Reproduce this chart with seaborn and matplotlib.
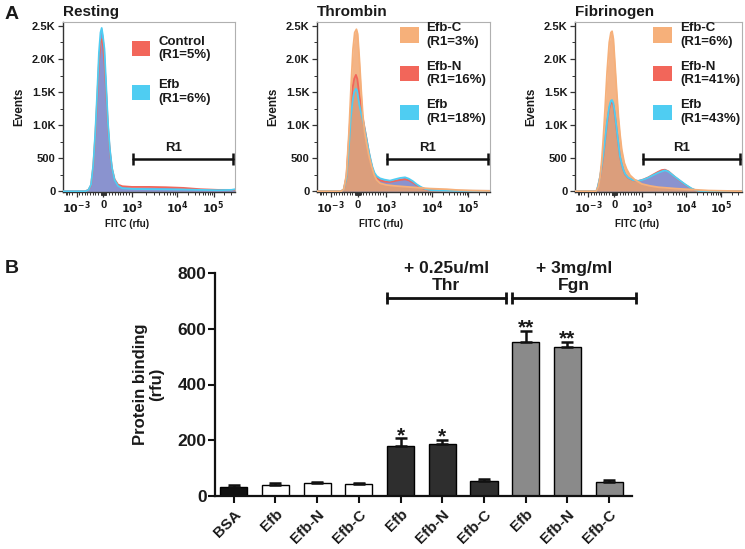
import numpy as np
import pandas as pd
import matplotlib
matplotlib.use("Agg")
import matplotlib.pyplot as plt
import seaborn as sns
from matplotlib.patches import Patch
from matplotlib.ticker import FixedLocator, MultipleLocator

# ---------------- DATA ----------------
# Panel A: flow cytometry histograms (x = display channel 0..1000, y = events)
fitc_tick_labels = [r"$10^{-3}$", "0", r"$10^{3}$", r"$10^{4}$", r"$10^{5}$"]
event_ticks = [0, 500, 1000, 1500, 2000, 2500]
event_tick_labels = ["0", "500", "1.0K", "1.5K", "2.0K", "2.5K"]

rest_ctrl_ch = [0, 130, 148, 163, 176, 188, 199, 209, 218, 226, 233, 241, 251, 261, 272, 285, 300, 320, 345, 400, 500, 600, 700, 800, 900, 1000]
rest_ctrl_ev = [0, 0, 20, 90, 380, 850, 1400, 1950, 2250, 2300, 2200, 1950, 1500, 1000, 620, 340, 180, 100, 75, 65, 65, 60, 50, 30, 20, 20]
rest_efb_ch = [0, 130, 148, 163, 176, 188, 199, 209, 218, 225, 232, 241, 251, 261, 272, 285, 300, 320, 345, 400, 500, 600, 700, 800, 900, 980, 1000]
rest_efb_ev = [0, 0, 20, 100, 400, 900, 1500, 2100, 2400, 2470, 2350, 2150, 1600, 1050, 650, 350, 170, 80, 45, 35, 30, 28, 25, 20, 15, 20, 30]

thr_efbc_ch = [0, 140, 155, 170, 185, 197, 208, 218, 228, 235, 245, 255, 265, 275, 288, 300, 315, 330, 345, 365, 400, 450, 500, 550, 600, 650, 700, 750, 800, 900, 1000]
thr_efbc_ev = [0, 0, 30, 250, 900, 1600, 2150, 2400, 2450, 2380, 2000, 1550, 1150, 900, 700, 540, 380, 250, 170, 120, 95, 80, 70, 60, 50, 40, 35, 30, 20, 10, 5]
thr_efbn_ch = [0, 140, 155, 170, 185, 195, 205, 215, 225, 233, 245, 258, 268, 280, 290, 300, 310, 320, 332, 345, 364, 390, 422, 450, 480, 509, 530, 555, 576, 600, 624, 660, 700, 800, 1000]
thr_efbn_ev = [0, 0, 30, 220, 800, 1250, 1550, 1700, 1760, 1700, 1450, 1200, 1060, 890, 740, 590, 460, 350, 250, 200, 165, 145, 140, 155, 170, 180, 165, 130, 90, 55, 30, 15, 10, 5, 5]
thr_efb_ch = [0, 140, 155, 170, 185, 195, 205, 215, 225, 232, 245, 258, 268, 280, 290, 300, 310, 320, 332, 345, 364, 390, 422, 450, 480, 509, 530, 555, 576, 600, 624, 660, 700, 800, 1000]
thr_efb_ev = [0, 0, 30, 200, 700, 1100, 1350, 1500, 1550, 1520, 1300, 1150, 1040, 880, 740, 600, 480, 370, 280, 230, 195, 175, 160, 180, 200, 210, 190, 150, 105, 65, 35, 15, 10, 5, 5]

fgn_efbc_ch = [0, 125, 132, 140, 150, 160, 170, 180, 192, 205, 215, 222, 230, 240, 250, 260, 270, 280, 295, 310, 330, 360, 400, 450, 500, 600, 700, 800, 900, 1000]
fgn_efbc_ev = [0, 0, 20, 70, 210, 460, 820, 1250, 1800, 2250, 2400, 2420, 2300, 1900, 1500, 1130, 850, 630, 430, 330, 240, 170, 110, 80, 60, 40, 25, 10, 5, 0]
fgn_efbn_ch = [0, 125, 132, 140, 150, 160, 170, 180, 192, 205, 215, 222, 230, 240, 250, 260, 269, 279, 289, 300, 319, 345, 379, 410, 439, 470, 499, 520, 539, 560, 579, 600, 619, 640, 659, 680, 699, 720, 739, 800, 1000]
fgn_efbn_ev = [0, 0, 20, 100, 210, 370, 545, 760, 1030, 1250, 1340, 1350, 1300, 1130, 920, 710, 525, 415, 325, 255, 200, 168, 155, 178, 210, 255, 295, 320, 325, 300, 258, 212, 175, 135, 100, 65, 35, 15, 5, 0, 0]
fgn_efb_ch = [0, 125, 132, 140, 150, 160, 170, 180, 192, 205, 215, 222, 230, 240, 250, 260, 269, 279, 289, 300, 319, 345, 379, 410, 439, 470, 499, 520, 539, 560, 579, 600, 619, 640, 659, 680, 699, 720, 739, 800, 1000]
fgn_efb_ev = [0, 0, 20, 105, 220, 380, 560, 780, 1050, 1280, 1370, 1380, 1330, 1150, 935, 720, 530, 420, 330, 260, 205, 170, 155, 175, 205, 245, 280, 300, 316, 295, 256, 215, 180, 140, 105, 70, 40, 18, 5, 0, 0]

panel_titles = ["Resting", "Thrombin", "Fibrinogen"]
rest_labels = ["Control\n(R1=5%)", "Efb\n(R1=6%)"]
thr_labels = ["Efb-C\n(R1=3%)", "Efb-N\n(R1=16%)", "Efb\n(R1=18%)"]
fgn_labels = ["Efb-C\n(R1=6%)", "Efb-N\n(R1=41%)", "Efb\n(R1=43%)"]

# Panel B: protein binding bar chart
bar_labels = ["BSA", "Efb", "Efb-N", "Efb-C", "Efb", "Efb-N", "Efb-C", "Efb", "Efb-N", "Efb-C"]
bar_values = [33, 40, 48, 43, 180, 187, 55, 553, 533, 50]
bar_errors = [8, 6, 4, 5, 27, 14, 5, 39, 21, 8]
bar_stars = ["", "", "", "", "*", "*", "", "**", "**", ""]
group_labels = ["+ 0.25u/ml\nThr", "+ 3mg/ml\nFgn"]

# ---------------- STYLE ----------------
sns.set_theme(style="ticks")
plt.rcParams['font.family'] = ['Liberation Sans', 'DejaVu Sans']
plt.rcParams['font.weight'] = 'bold'
plt.rcParams['mathtext.default'] = 'bf'
TXT = '#1a1a1a'

C_RED = '#f2665a'
C_CYAN = '#4fcdf2'
C_ORANGE = '#f6b07a'
C_PURPLE = '#8a93cf'

fig = plt.figure(figsize=(7.45, 5.49), dpi=100)
W, H = 745, 549

def px_axes(l, t, r, b):
    return fig.add_axes([l / W, 1 - b / H, (r - l) / W, (b - t) / H])

axes_A = [px_axes(63, 22, 235, 192), px_axes(317, 22, 490, 192), px_axes(575, 22, 742, 192)]
axB = px_axes(215, 273, 632, 496)

# FITC axis tick positions (display channels)
maj_pos = [80, 235, 400, 665, 875]
minor = []
for v in list(range(10, 100, 10)) + list(range(100, 1000, 100)):
    minor.append(235 + 165 * v / 1000)
    minor.append(235 - 155 * v / 1000)
for v in range(2, 10):
    minor.append(400 + 265 * np.log10(v))
    minor.append(665 + 210 * np.log10(v))
for v in range(2, 4):
    minor.append(875 + 210 * np.log10(v))
for v in range(2, 6):
    minor.append(80 - 155 * np.log10(v) * 0.6)
minor = [m for m in minor if 0 <= m <= 1000]


def hist_panel(ax, curves, title, handles, labels, anchor, lspace):
    # curves: (name, ch, ev, fill color, fill alpha, line color)
    for name, ch, ev, fc, fa, lc in curves:
        ax.fill_between(ch, 0, ev, color=fc, alpha=fa, lw=0, zorder=1)
    for name, ch, ev, fc, fa, lc in curves:
        df = pd.DataFrame({'ch': ch, 'ev': ev})
        sns.lineplot(data=df, x='ch', y='ev', color=lc, lw=1.3, ax=ax,
                     estimator=None, sort=False, zorder=3)
    ax.set_xlim(0, 1000)
    ax.set_ylim(-12, 2560)
    ax.set_xticks(maj_pos)
    ax.set_xticklabels(fitc_tick_labels)
    ax.xaxis.set_minor_locator(FixedLocator(minor))
    ax.set_yticks(event_ticks)
    ax.set_yticklabels(event_tick_labels)
    ax.yaxis.set_minor_locator(MultipleLocator(250))
    ax.tick_params(axis='both', which='major', labelsize=8, length=3.5, width=0.9,
                   colors='#333333', labelcolor=TXT, pad=2)
    ax.tick_params(axis='both', which='minor', length=2, width=0.7, colors='#333333')
    for s in ['top', 'right']:
        ax.spines[s].set_color('#b0b0b0')
        ax.spines[s].set_linewidth(0.8)
    for s in ['left', 'bottom']:
        ax.spines[s].set_color('#333333')
        ax.spines[s].set_linewidth(1.0)
    ax.set_xlabel('FITC (rfu)', fontsize=7, fontweight='bold', color=TXT, labelpad=3)
    ax.xaxis.set_label_coords(0.37, -0.16)
    ax.set_ylabel('Events', fontsize=8.5, fontweight='bold', color=TXT, labelpad=5)
    ax.set_title(title, loc='left', fontsize=11, fontweight='bold', color=TXT, pad=4)
    # R1 gate
    ax.plot([407, 990], [480, 480], color='#111111', lw=1.8, marker='|',
            markersize=8, mew=1.8, zorder=4, clip_on=False)
    ax.text(640, 560, 'R1', ha='center', va='bottom', fontsize=9.5,
            fontweight='bold', color=TXT)
    leg = ax.legend(handles=handles, labels=labels, loc='upper left',
                    bbox_to_anchor=anchor, frameon=False, fontsize=9.5,
                    handlelength=1.4, handleheight=1.4, handletextpad=0.6,
                    labelspacing=lspace, borderaxespad=0, borderpad=0)
    for t in leg.get_texts():
        t.set_fontweight('bold')
        t.set_color(TXT)


hist_panel(axes_A[0],
           [('Control', rest_ctrl_ch, rest_ctrl_ev, C_PURPLE, 1.0, C_RED),
            ('Efb', rest_efb_ch, rest_efb_ev, C_PURPLE, 1.0, C_CYAN)],
           panel_titles[0],
           [Patch(fc=C_RED, ec='none'), Patch(fc=C_CYAN, ec='none')],
           rest_labels, (0.40, 0.92), 1.35)

hist_panel(axes_A[1],
           [('Efb-N', thr_efbn_ch, thr_efbn_ev, C_PURPLE, 1.0, C_RED),
            ('Efb', thr_efb_ch, thr_efb_ev, C_PURPLE, 1.0, C_CYAN),
            ('Efb-C', thr_efbc_ch, thr_efbc_ev, '#f0a268', 0.8, C_ORANGE)],
           panel_titles[1],
           [Patch(fc=C_ORANGE, ec='none'), Patch(fc=C_RED, ec='none'), Patch(fc=C_CYAN, ec='none')],
           thr_labels, (0.48, 1.0), 0.97)

hist_panel(axes_A[2],
           [('Efb-N', fgn_efbn_ch, fgn_efbn_ev, C_PURPLE, 1.0, C_RED),
            ('Efb', fgn_efb_ch, fgn_efb_ev, C_PURPLE, 1.0, C_CYAN),
            ('Efb-C', fgn_efbc_ch, fgn_efbc_ev, '#f0a268', 0.8, C_ORANGE)],
           panel_titles[2],
           [Patch(fc=C_ORANGE, ec='none'), Patch(fc=C_RED, ec='none'), Patch(fc=C_CYAN, ec='none')],
           fgn_labels, (0.47, 1.0), 0.97)

# ---------------- PANEL B ----------------
bar_colors = ['#111111', 'white', 'white', 'white', '#2e2e2e', '#2e2e2e', '#2e2e2e',
              '#8a8a8a', '#8a8a8a', '#8a8a8a']
slots = [f"s{i}" for i in range(len(bar_values))]
dfB = pd.DataFrame({'slot': slots, 'val': bar_values})
sns.barplot(data=dfB, x='slot', y='val', hue='slot', order=slots,
            palette=dict(zip(slots, bar_colors)), legend=False, width=0.65,
            saturation=1, edgecolor='black', linewidth=1.0, errorbar=None, ax=axB)
xpos = np.arange(len(bar_values))
axB.errorbar(xpos, bar_values, yerr=[np.zeros(len(bar_errors)), bar_errors],
             fmt='none', ecolor='#111111', elinewidth=1.8, capsize=4.5, capthick=1.8,
             zorder=4)
for x, v, e, s in zip(xpos, bar_values, bar_errors, bar_stars):
    if s:
        axB.text(x, v + e - 10, s, ha='center', va='baseline', fontsize=15,
                 fontweight='bold', color=TXT)

axB.set_xlim(-0.45, 9.55)
axB.set_ylim(0, 800)
axB.set_yticks([0, 200, 400, 600, 800])
axB.set_xticks(xpos)
axB.set_xticklabels(bar_labels, rotation=45, ha='right', rotation_mode='anchor')
axB.tick_params(axis='y', labelsize=12.5, length=5, width=1.5, colors='#111111', pad=1)
axB.tick_params(axis='x', labelsize=11, length=5, width=1.5, colors='#111111', pad=3)
for lab in axB.get_xticklabels() + axB.get_yticklabels():
    lab.set_fontweight('bold')
    lab.set_color(TXT)
sns.despine(ax=axB)
for s in ['left', 'bottom']:
    axB.spines[s].set_linewidth(1.6)
    axB.spines[s].set_color('#111111')
axB.set_xlabel('')
axB.set_ylabel('Protein binding\n(rfu)', fontsize=12, fontweight='bold', color=TXT,
               labelpad=10, linespacing=1.1)

# group brackets
brackets = [(3.67, 6.52), (6.67, 9.64)]
for (x0, x1), lab in zip(brackets, group_labels):
    axB.plot([x0, x1], [710, 710], color='#111111', lw=2, marker='|', markersize=9,
             mew=2, clip_on=False, zorder=5)
    axB.text((x0 + x1) / 2, 728, lab, ha='center', va='bottom', fontsize=12.5,
             fontweight='bold', color=TXT, linespacing=1.2)

fig.text(5 / W, 1 - 19 / H, 'A', fontsize=14, fontweight='bold', color=TXT)
fig.text(5 / W, 1 - 273 / H, 'B', fontsize=14, fontweight='bold', color=TXT)

fig.savefig('out.png', dpi=100)
